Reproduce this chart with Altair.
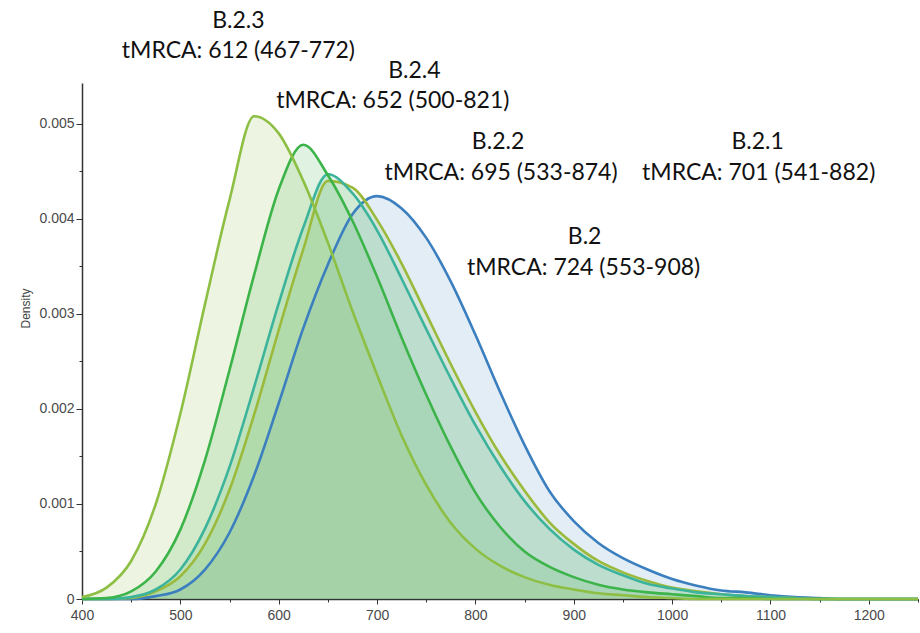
import altair as alt
import pandas as pd

# ---- data ----
x_vals = [400, 425, 450, 475, 500, 525, 550, 575, 600, 625, 650, 675, 700, 725,
          750, 775, 800, 825, 850, 875, 900, 925, 950, 975, 1000, 1025, 1050,
          1075, 1100, 1125, 1150, 1175, 1200, 1225, 1250]

dens_b2 = [0, 0, 0, 0.00003, 0.0001, 0.00031, 0.0007, 0.0013, 0.00206, 0.00285,
           0.00352, 0.00405, 0.00424, 0.00411, 0.00380, 0.00334, 0.00278, 0.00218,
           0.00162, 0.00114, 0.00082, 0.00059, 0.00043, 0.00031, 0.00021, 0.00014,
           0.00009, 0.00007, 0.00004, 0.00002, 0.00001, 0, 0, 0, 0]
dens_b21 = [0, 0, 0.00001, 0.00008, 0.00024, 0.00058, 0.00115, 0.00194, 0.00283,
            0.00368, 0.0044, 0.00433, 0.00399, 0.00353, 0.003, 0.00247, 0.00197,
            0.00152, 0.00114, 0.00081, 0.00058, 0.0004, 0.00028, 0.00019, 0.00012,
            0.00008, 0.00005, 0.00003, 0.00002, 0.00001, 0, 0, 0, 0, 0]
dens_b22 = [0, 0, 0.00002, 0.0001, 0.00031, 0.00074, 0.00139, 0.00223, 0.00311,
            0.00391, 0.00447, 0.00427, 0.00388, 0.00337, 0.00284, 0.00232, 0.00183,
            0.0014, 0.00103, 0.00074, 0.00052, 0.00036, 0.00025, 0.00016, 0.00011,
            0.00007, 0.00005, 0.00003, 0.00002, 0.00001, 0, 0, 0, 0, 0]
dens_b24 = [0, 0.00001, 0.00008, 0.00029, 0.00073, 0.00146, 0.00241, 0.00341,
            0.00431, 0.00478, 0.00446, 0.00398, 0.00339, 0.00275, 0.00215, 0.00160,
            0.00112, 0.00076, 0.00050, 0.00034, 0.00023, 0.00015, 0.00010, 0.00007,
            0.00005, 0.00003, 0.00001, 0.00001, 0, 0, 0, 0, 0, 0, 0]
dens_b23 = [0.00002, 0.00012, 0.0004, 0.001, 0.00195, 0.0031, 0.0042, 0.00508,
            0.0049, 0.0044, 0.00375, 0.00303, 0.00236, 0.00172, 0.0012, 0.0008,
            0.00053, 0.00035, 0.00023, 0.00015, 0.0001, 0.00006, 0.00004, 0.00002,
            0.00001, 0, 0, 0, 0, 0, 0, 0, 0, 0, 0]

series_names = ["B.2", "B.2.1", "B.2.2", "B.2.4", "B.2.3"]
series_dens = [dens_b2, dens_b21, dens_b22, dens_b24, dens_b23]
line_colors = ["#3b7fbf", "#9bba3c", "#3cb39b", "#3cb44a", "#8dbf44"]
fill_colors = ["#5b93cc", "#8cc05a", "#4fb58f", "#46b355", "#93c455"]

ann_labels = ["B.2.3", "tMRCA: 612 (467-772)",
              "B.2.4", "tMRCA: 652 (500-821)",
              "B.2.2", "tMRCA: 695 (533-874)",
              "B.2.1", "tMRCA: 701 (541-882)",
              "B.2", "tMRCA: 724 (553-908)"]
ann_x = [559, 559, 738, 716, 823, 826, 1087, 1088, 911, 910]
ann_y = [0.00601, 0.00569, 0.00548, 0.00517, 0.004735, 0.004409,
         0.004735, 0.004409, 0.003736, 0.003409]

x_ticks = [400, 450, 500, 550, 600, 650, 700, 750, 800, 850, 900, 950, 1000,
           1050, 1100, 1150, 1200, 1250]
y_ticks = [0, 0.0005, 0.001, 0.0015, 0.002, 0.0025, 0.003, 0.0035, 0.004,
           0.0045, 0.005]

# ---- build tables ----
rows = []
for name, dens in zip(series_names, series_dens):
    for xv, dv in zip(x_vals, dens):
        rows.append({"series": name, "x": xv, "density": dv})
df = pd.DataFrame(rows)
ann_df = pd.DataFrame({"label": ann_labels, "x": ann_x, "y": ann_y})

xscale = alt.Scale(domain=[400, 1250], nice=False, zero=False)
yscale = alt.Scale(domain=[0, 0.00543], nice=False)

x_axis = alt.Axis(
    values=x_ticks,
    labelExpr="datum.value % 100 == 0 ? datum.value : ''",
    tickSize={"condition": {"test": "datum.value % 100 == 0", "value": 5}, "value": 3},
    labelFont="Liberation Sans", labelFontSize=14, labelColor="#4a4a4a",
    labelPadding=4, domainColor="#333", tickColor="#333", domainWidth=1.5,
    grid=False, labelFlush=False, labelOverlap=False,
)
y_axis = alt.Axis(
    values=y_ticks,
    labelExpr="round(datum.value*10000) % 10 == 0 ? (datum.value == 0 ? '0' : format(datum.value, '.3f')) : ''",
    tickSize={"condition": {"test": "round(datum.value*10000) % 10 == 0", "value": 6}, "value": 3},
    labelFont="Liberation Sans", labelFontSize=14, labelColor="#4a4a4a",
    labelPadding=2, domainColor="#333", tickColor="#333", domainWidth=1.5,
    grid=False, labelFlush=False, labelOverlap=False,
    title="Density", titleFont="Liberation Sans", titleFontSize=12,
    titleFontWeight="normal", titleColor="#444", titlePadding=6, titleY=225,
)

X = alt.X("x:Q", scale=xscale, axis=x_axis, title=None)
Y = alt.Y("density:Q", scale=yscale, axis=y_axis, stack=None)

layers = []
for name, fc in zip(series_names, fill_colors):
    layers.append(
        alt.Chart(df).transform_filter(alt.datum.series == name)
        .mark_area(interpolate="monotone", color=fc, opacity=0.17)
        .encode(x=X, y=Y)
    )
for name, lc in zip(series_names, line_colors):
    layers.append(
        alt.Chart(df).transform_filter(alt.datum.series == name)
        .mark_line(interpolate="monotone", color=lc, strokeWidth=2.6)
        .encode(x=X, y=Y)
    )

text = alt.Chart(ann_df).mark_text(
    font="Lato", fontSize=23, align="center", baseline="alphabetic", color="#111"
).encode(
    x=alt.X("x:Q", scale=xscale, axis=x_axis, title=None),
    y=alt.Y("y:Q", scale=yscale, axis=y_axis),
    text="label:N",
)
layers.append(text)

chart = alt.layer(*layers).properties(
    width=836, height=516,
    autosize=alt.AutoSizeParams(type="none"),
    padding={"left": 82, "top": 83, "right": 2, "bottom": 34},
    background="white",
).configure_view(stroke=None)

chart.save("out.html", embed_options={"renderer": "svg", "actions": False})
